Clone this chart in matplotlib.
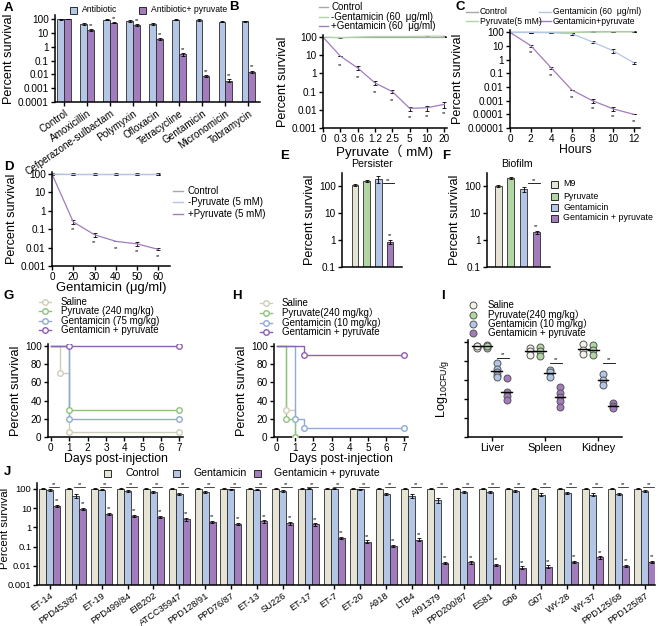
import numpy as np
import matplotlib
matplotlib.use('Agg')
import matplotlib.pyplot as plt
from matplotlib import font_manager
from matplotlib.lines import Line2D
from matplotlib.patches import Rectangle
from matplotlib.ticker import NullLocator
from matplotlib.transforms import Affine2D

HAS_NARROW = any(f.name == 'Liberation Sans Narrow' for f in font_manager.fontManager.ttflist)
MAIN = 'Liberation Sans Narrow' if HAS_NARROW else 'Liberation Sans'
plt.rcParams['font.family'] = [MAIN, 'Noto Sans CJK SC', 'DejaVu Sans']
plt.rcParams['axes.linewidth'] = 1.1
S = 1.0 if HAS_NARROW else 0.95      # general text scale
SN = 1.0 if HAS_NARROW else 0.84     # scale for tight spots

BEIGE = '#e6e4d4'
GREEN = '#b0d6a3'
BLUE = '#b3c6e6'
PURPLE = '#a27cbd'
GRAY = '#a8a8a8'
EDGE = '#2b2b2b'

# ---- A ----
a_cats = ['Control', 'Amoxicillin', 'Cefperazone-sulbactam', 'Polymyxin', 'Ofloxacin',
          'Tetracycline', 'Gentamicin', 'Micronomicin', 'Tobramycin']
a_antibiotic = [100, 43, 90, 75, 43, 90, 85, 65, 70]
a_antibiotic_err = [6, 8, 5, 15, 6, 5, 12, 4, 4]
a_pyruvate = [105, 16, 57, 36, 3.5, 0.28, 0.008, 0.0035, 0.015]
a_pyruvate_err = [6, 3, 6, 6, 0.5, 0.06, 0.0012, 0.0009, 0.003]

# ---- B ----
b_pyr = ['0', '0.3', '0.6', '1.2', '2.5', '5', '10', '20']
b_control = [100, 100, 100, 100, 100, 100, 100, 100]
b_minus_gent = [100, 92, 100, 108, 108, 108, 112, 112]
b_plus_gent = [100, 9, 2.0, 0.3, 0.1, 0.012, 0.013, 0.02]
b_plus_err = [0, 0, 0.5, 0.07, 0.02, 0.003, 0.004, 0.008]

# ---- C ----
c_hours = [0, 2, 4, 6, 8, 10, 12]
c_control = [100, 100, 100, 100, 110, 115, 115]
c_pyruvate = [100, 100, 100, 100, 105, 110, 110]
c_gent = [100, 100, 95, 80, 20, 4.5, 0.6]
c_gent_pyr = [100, 11, 0.25, 0.006, 0.001, 0.00025, 0.0001]

# ---- D ----
d_gent = ['0', '20', '30', '40', '50', '60']
d_control = [100, 100, 100, 100, 100, 100]
d_minus_pyr = [100, 95, 95, 95, 95, 95]
d_plus_pyr = [100, 0.25, 0.05, 0.022, 0.016, 0.008]

# ---- E / F ----
ef_groups = ['M9', 'Pyruvate', 'Gentamicin', 'Gentamicin + pyruvate']
e_persister = [105, 150, 180, 0.85]
e_err = [8, 15, 50, 0.15]
f_biofilm = [100, 200, 75, 1.9]
f_err = [12, 15, 15, 0.3]

# ---- G / H (survival steps) ----
g_labels = ['Saline', 'Pyruvate (240 mg/kg)', 'Gentamicin (75 mg/kg)', 'Gentamicin + pyruvate']
g_days = [[0, 0.5, 1, 7], [0, 1, 7], [0, 1, 7], [0, 1, 7]]
g_surv = [[100, 70, 5, 5], [100, 30, 30], [100, 20, 20], [100, 100, 100]]
h_labels = ['Saline', 'Pyruvate(240 mg/kg）', 'Gentamicin (10 mg/kg）', 'Gentamicin + pyruvate']
h_days = [[0, 0.5, 1], [0, 0.5, 1], [0, 1, 1.5, 7], [0, 1.5, 7]]
h_surv = [[100, 30, 0], [100, 20, 0], [100, 20, 10, 10], [100, 90, 90]]

# ---- I ----
i_organs = ['Liver', 'Spleen', 'Kidney']
i_labels = ['Saline', 'Pyruvate(240 mg/kg）', 'Gentamicin (10 mg/kg）', 'Gentamicin + pyruvate']
i_saline = [[9.6, 9.5, 9.4, 9.6], [9.4, 9.0, 8.6], [9.8, 9.2, 8.7]]
i_pyruvate = [[9.7, 9.5, 9.4, 9.6], [9.5, 9.0, 8.5], [9.7, 9.2, 8.6]]
i_gent = [[7.8, 7.2, 6.8, 6.5, 6.3], [7.0, 6.8, 6.3], [6.6, 6.0, 5.5]]
i_gent_pyr = [[6.2, 4.7, 4.3, 3.9], [5.3, 4.6, 4.2, 3.8, 3.2], [3.6, 3.3, 3.0]]

# ---- J ----
j_strains = ['ET-14', 'PPD453/87', 'ET-19', 'PPD499/84', 'EIB202', 'ATCC35947', 'PPD128/91',
             'PPD76/87', 'ET-13', 'SU226', 'ET-17', 'ET-7', 'ET-20', 'A918', 'LTB4', 'AI91379',
             'PPD200/87', 'ES81', 'G06', 'G07', 'WY-28', 'WY-37', 'PPD125/68', 'PPD125/87']
j_control = [100, 100, 100, 100, 100, 100, 100, 100, 100, 100, 100, 100,
             100, 100, 100, 100, 100, 100, 100, 100, 100, 100, 100, 100]
j_gent = [85, 43, 90, 78, 72, 55, 65, 95, 90, 80, 100, 100,
          95, 55, 43, 26, 70, 70, 75, 50, 60, 50, 55, 75]
j_gent_pyr = [13, 9, 5, 3.8, 3.5, 2.6, 1.9, 1.5, 2.0, 1.6, 1.4, 0.28,
              0.18, 0.11, 0.23, 0.014, 0.015, 0.011, 0.008, 0.009, 0.016, 0.027, 0.01, 0.016]

W, H = 659, 626
fig = plt.figure(figsize=(W / 100, H / 100), dpi=100)
PIX = Affine2D().scale(1 / W, -1 / H).translate(0, 1) + fig.transFigure

TICK = 7.6 * S
LAB = 9.6 * S
XLAB = 9.3 * S
LEG = 7.4 * S
CAT = 8.4 * S


def add_ax(l, t, r, b):
    return fig.add_axes([l / W, 1 - b / H, (r - l) / W, (b - t) / H])


def letter(x, y, s):
    fig.text(x / W, 1 - y / H, s, fontsize=9.5, fontweight='bold', va='center', ha='left',
             family='Liberation Sans')


def style(ax):
    ax.spines[['top', 'right']].set_visible(False)
    ax.tick_params(length=3, width=1, labelsize=TICK, pad=1.5)


def fmt(e):
    return str(int(10 ** e)) if e >= 0 else f"{10.0 ** e:.{-e}f}"


def log_y(ax, lo, hi, top):
    ax.set_yscale('log')
    ticks = [10.0 ** e for e in range(lo, hi + 1)]
    ax.set_yticks(ticks, [fmt(e) for e in range(lo, hi + 1)])
    ax.yaxis.set_minor_locator(NullLocator())
    ax.set_ylim(10.0 ** lo, top)


def leg(x, y, kind, color, text, tx, size=LEG, length=10):
    # legend entry placed in pixel coordinates (from top-left)
    if kind == 'sq':
        fig.add_artist(Rectangle((x, y - 3.5), 7, 7, transform=PIX, facecolor=color,
                                 edgecolor=EDGE, lw=0.7))
    elif kind == 'line':
        fig.add_artist(Line2D([x, x + length], [y, y], transform=PIX, color=color, lw=1.0))
    elif kind == 'km':
        fig.add_artist(Line2D([x, x + length], [y, y], transform=PIX, color=color, lw=1.0))
        fig.add_artist(Line2D([x + length / 2], [y], transform=PIX, marker='o', ms=4,
                              mfc='white', mec=color, mew=1.0))
    elif kind == 'dot':
        fig.add_artist(Line2D([x], [y], transform=PIX, marker='o', ms=5, mfc=color,
                              mec='#555555', mew=0.7))
    fig.text(tx / W, 1 - y / H, text, va='center', ha='left', fontsize=size)


ekw = dict(elinewidth=0.6, capsize=1.3, capthick=0.6, ecolor='black')

# ================= A =================
ax = add_ax(55, 15, 260, 102)
style(ax)
x = np.arange(len(a_cats))
ax.bar(x - 0.15, a_antibiotic, 0.3, yerr=a_antibiotic_err, color=BLUE, edgecolor=EDGE, lw=0.6,
       error_kw=ekw)
ax.bar(x + 0.15, a_pyruvate, 0.3, yerr=a_pyruvate_err, color=PURPLE, edgecolor=EDGE, lw=0.6,
       error_kw=ekw)
for i in range(1, len(a_cats)):
    ax.text(x[i] + 0.15, (a_pyruvate[i] + a_pyruvate_err[i]) * 1.25, '**', ha='center',
            va='bottom', fontsize=4)
log_y(ax, -4, 2, 200)
ax.set_xlim(-0.4, 8.5)
ax.set_xticks(x, a_cats, rotation=35, ha='right', rotation_mode='anchor', fontsize=7.6 * S)
ax.set_ylabel('Percent survival', fontsize=LAB, labelpad=2)
leg(70, 10, 'sq', BLUE, 'Antibiotic', 82, size=7.4 * SN)
leg(139, 10, 'sq', PURPLE, 'Antibiotic+ pyruvate', 151, size=7.4 * SN)
letter(4, 8, 'A')

# ================= B =================
ax = add_ax(323, 35, 447, 128)
style(ax)
bx = np.arange(len(b_pyr))
ax.errorbar(bx, b_control, yerr=[5] * len(bx), color=GRAY, lw=0.9, **ekw)
ax.errorbar(bx, b_minus_gent, yerr=[5] * len(bx), color=GREEN, lw=0.9, **ekw)
ax.errorbar(bx, b_plus_gent, yerr=b_plus_err, color=PURPLE, lw=0.9, **ekw)
for i in range(1, len(bx)):
    ax.text(bx[i], b_plus_gent[i] / 3.2, '**', ha='center', va='center', fontsize=4)
log_y(ax, -3, 2, 130)
ax.set_xlim(0, 7.15)
ax.set_xticks(bx, b_pyr)
ax.set_ylabel('Percent survival', fontsize=LAB, labelpad=2)
ax.set_xlabel('Pyruvate（ mM)', fontsize=XLAB + 0.8, labelpad=0)
for yy, c, t in [(7, GRAY, 'Control'), (17, GREEN, '-Gentamicin (60  μg/ml)'),
                 (26, PURPLE, '+Gentamicin (60  μg/ml)')]:
    leg(319, yy, 'line', c, t, 331, length=9)
letter(229, 7, 'B')

# ================= C =================
ax = add_ax(510, 30, 640, 128)
style(ax)
ax.errorbar(c_hours, c_control, yerr=[10] * 7, color=GRAY, lw=0.9, **ekw)
ax.errorbar(c_hours, c_pyruvate, yerr=[5] * 7, color=GREEN, lw=0.9, **ekw)
ax.errorbar(c_hours, c_gent, yerr=[0, 5, 10, 10, 3, 1.5, 0.12], color=BLUE, lw=0.9, **ekw)
ax.errorbar(c_hours, c_gent_pyr, yerr=[0, 2, 0.05, 0, 0.0003, 0.00008, 0], color=PURPLE, lw=0.9,
            **ekw)
for i in range(1, 7):
    ax.text(c_hours[i], c_gent_pyr[i] / 3.5, '**', ha='center', va='center', fontsize=4)
log_y(ax, -5, 2, 150)
ax.set_xlim(0, 12.6)
ax.set_xticks(c_hours)
ax.set_ylabel('Percent survival', fontsize=LAB, labelpad=2)
ax.set_xlabel('Hours', fontsize=XLAB, labelpad=0)
CL = 7.4 * SN
leg(466, 12, 'line', GRAY, 'Control', 480, size=CL, length=12)
leg(466, 21, 'line', GREEN, 'Pyruvate(5 mM)', 480, size=CL, length=12)
leg(539, 12, 'line', BLUE, 'Gentamicin (60  μg/ml)', 553, size=CL, length=12)
leg(539, 21, 'line', PURPLE, 'Gentamicin+pyruvate', 553, size=CL, length=12)
letter(455, 7, 'C')

# ================= D =================
ax = add_ax(52, 172, 170, 266)
style(ax)
dx = np.arange(len(d_gent))
ax.errorbar(dx, d_control, yerr=[8] * 6, color=GRAY, lw=0.9, **ekw)
ax.errorbar(dx, d_minus_pyr, yerr=[8] * 6, color=BLUE, lw=0.9, **ekw)
ax.errorbar(dx, d_plus_pyr, yerr=[0, 0.05, 0.012, 0, 0.003, 0.001], color=PURPLE, lw=0.9, **ekw)
for i in range(1, len(dx)):
    ax.text(dx[i], d_plus_pyr[i] / 2.6, '**', ha='center', va='center', fontsize=4)
log_y(ax, -3, 2, 130)
ax.set_xlim(0, 5.55)
ax.set_xticks(dx, d_gent)
ax.set_ylabel('Percent survival', fontsize=LAB, labelpad=2)
ax.set_xlabel('Gentamicin (μg/ml)', fontsize=XLAB + 0.5, labelpad=0)
leg(173, 191, 'line', GRAY, 'Control', 188)
leg(173, 202, 'line', BLUE, '-Pyruvate (5 mM)', 188)
leg(173, 214, 'line', PURPLE, '+Pyruvate (5 mM)', 188)
letter(4, 167, 'D')

# ================= E / F =================
ef_colors = [BEIGE, GREEN, BLUE, PURPLE]
for (l, r, xl, vals, errs, title, lab, lx, tx) in [
        (342, 402, (-1.1, 4.0), e_persister, e_err, 'Persister', 'E', 280, 372),
        (487, 550, (-0.86, 4.05), f_biofilm, f_err, 'Biofilm', 'F', 442, 517)]:
    ax = add_ax(l, 173, r, 267)
    style(ax)
    ex = np.arange(4)
    ax.bar(ex, vals, 0.55, yerr=errs, color=ef_colors, edgecolor=EDGE, lw=0.6, error_kw=ekw)
    ax.text(3, (vals[3] + errs[3]) * 1.2, '**', ha='center', va='bottom', fontsize=4)
    ax.plot([2.35, 3.3], [125, 125], color='black', lw=0.6)
    ax.text(2.8, 130, '**', ha='center', va='bottom', fontsize=4)
    log_y(ax, -1, 2, 300)
    ax.set_xlim(*xl)
    ax.set_xticks([])
    ax.set_ylabel('Percent survival', fontsize=LAB, labelpad=2)
    fig.text(tx / W, 1 - 164 / H, title, ha='center', va='center', fontsize=8 * S)
    letter(lx, 156, lab)
for yy, c, t in zip([184, 196, 207, 218], ef_colors, ef_groups):
    leg(551, yy, 'sq', c, t, 563, size=7.6 * SN)

# ================= G / H =================
km_cols = ['#cfcdb8', '#8cc47c', '#8faad8', '#9060b0']
for (l, r, days, surv, labels, lab, lx, legx, legtx, rows) in [
        (48, 183, g_days, g_surv, g_labels, 'G', 4, 39, 61, [302, 311, 321, 330]),
        (274, 408, h_days, h_surv, h_labels, 'H', 232, 260, 282, [303, 313, 323, 332])]:
    ax = add_ax(l, 344, r, 437)
    style(ax)
    for d, s, c in zip(days, surv, km_cols):
        ax.step(d, s, where='post', color=c, lw=1.0, zorder=2)
        ax.plot(d[1:], s[1:], 'o', ms=4, mfc='white', mec=c, mew=1.0, zorder=3)
    ax.set_xlim(-0.16, 7.2)
    ax.set_ylim(0, 102)
    ax.set_xticks(range(8))
    ax.set_yticks(range(0, 101, 20))
    ax.set_ylabel('Percent survival', fontsize=LAB, labelpad=2)
    ax.set_xlabel('Days post-injection', fontsize=XLAB, labelpad=0)
    for yy, c, t in zip(rows, km_cols, labels):
        leg(legx, yy, 'km', c, t, legtx, length=12)
    letter(lx, 296, lab)

# ================= I =================
ax = add_ax(468, 340, 622, 437)
style(ax)
fills = ['#f4f3ea', GREEN, BLUE, PURPLE]
offs = [-0.28, -0.09, 0.09, 0.28]
for gi, grp in enumerate([i_saline, i_pyruvate, i_gent, i_gent_pyr]):
    for oi in range(3):
        vals = grp[oi]
        ax.plot([oi + offs[gi]] * len(vals), vals, 'o', ms=5, mfc=fills[gi], mec='#555555',
                mew=0.7, zorder=3)
        m = np.mean(vals)
        ax.plot([oi + offs[gi] - 0.1, oi + offs[gi] + 0.1], [m, m], color='black', lw=1.0,
                zorder=4)
for oi, yb in zip(range(3), [8.3, 7.8, 7.8]):
    ax.plot([oi + 0.1, oi + 0.32], [yb, yb], color='black', lw=0.6)
    ax.text(oi + 0.21, yb + 0.1, '**', ha='center', va='bottom', fontsize=4)
ax.set_xlim(-0.45, 2.45)
ax.set_ylim(0, 10.2)
ax.set_yticks(range(0, 11, 2), [''] * 6)
ax.set_xticks(range(3), i_organs, fontsize=CAT)
ax.set_ylabel(r'Log$_{\mathregular{10CFU/g}}$', fontsize=LAB, labelpad=8)
for yy, c, t in zip([305, 315, 324, 333], fills, i_labels):
    leg(473, yy, 'dot', c, t, 488)
letter(441, 296, 'I')

# ================= J =================
ax = add_ax(37, 483, 655, 585)
style(ax)
jx = np.arange(len(j_strains))
jw = 0.27
ax.bar(jx - jw, j_control, jw, yerr=[6] * len(jx), color=BEIGE, edgecolor=EDGE, lw=0.6,
       error_kw=ekw)
ax.bar(jx, j_gent, jw, yerr=[8] * len(jx), color=BLUE, edgecolor=EDGE, lw=0.6, error_kw=ekw)
ax.bar(jx + jw, j_gent_pyr, jw, yerr=[v * 0.15 for v in j_gent_pyr], color=PURPLE,
       edgecolor=EDGE, lw=0.6, error_kw=ekw)
for i in jx:
    ax.text(i + jw, j_gent_pyr[i] * 1.4, '**', ha='center', va='bottom', fontsize=4)
    ax.plot([i - 0.05, i + 0.35], [128, 128], color='black', lw=0.5)
    ax.text(i + 0.15, 130, '**', ha='center', va='bottom', fontsize=4)
log_y(ax, -3, 2, 200)
ax.tick_params(axis='y', labelsize=7 * S, pad=1)
ax.set_xlim(-0.5, 23.4)
ax.set_xticks(jx, j_strains, rotation=35, ha='right', rotation_mode='anchor', fontsize=7 * S)
ax.set_ylabel('Percent survival', fontsize=8.6 * S)
ax.yaxis.set_label_coords(-27 / 618, 0.55)
leg(104, 473, 'sq', BEIGE, 'Control', 125, size=8 * S)
leg(173, 473, 'sq', BLUE, 'Gentamicin', 193, size=8 * S)
leg(254, 473, 'sq', PURPLE, 'Gentamicin + pyruvate', 274, size=8 * S)
letter(4, 472, 'J')

fig.savefig('out.png', dpi=100)
